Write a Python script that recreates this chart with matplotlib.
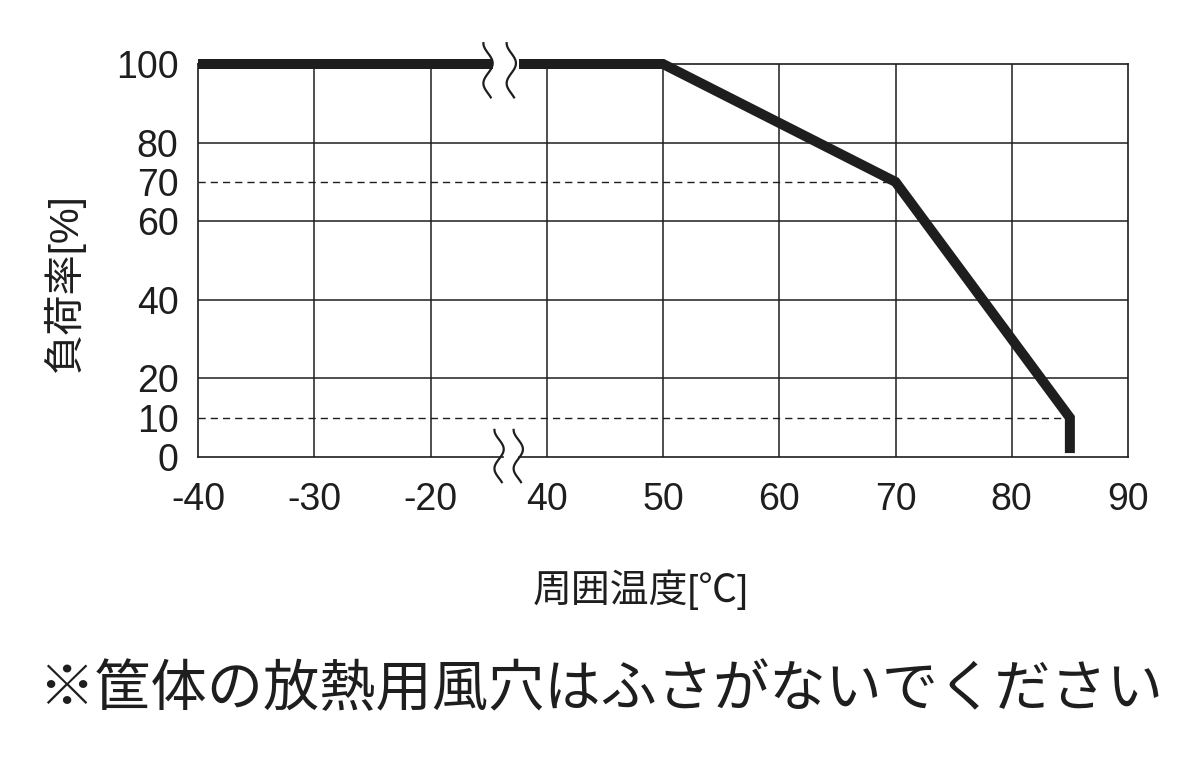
import numpy as np
import matplotlib
matplotlib.use("Agg")
import matplotlib.pyplot as plt
from matplotlib.patches import Rectangle

plt.rcParams['font.family'] = ['Liberation Sans', 'Noto Sans CJK JP', 'DejaVu Sans']

# derating curve (ambient temperature [C], load [%])
temps = [-40, 50, 70, 85, 85]
loads = [100, 100, 70, 10, 1]

# axis ticks (x axis is broken between -20 and 40)
xtick_labels = [-40, -30, -20, 40, 50, 60, 70, 80, 90]
yticks = [0, 10, 20, 40, 60, 70, 80, 100]
solid_y = [20, 40, 60, 80, 100]
dashed_y = [70, 10]
dashed_end = [70, 85]

ink = '#1e1e1e'


def pos(t):
    # map temperature to the position on the broken axis
    t = np.asarray(t, dtype=float)
    return np.where(t <= -20, (t + 40) / 10.0, 3 + (t - 40) / 10.0)


fig = plt.figure(figsize=(12, 7.6), dpi=100)
ax = fig.add_axes([198 / 1200, 1 - 457 / 760, 930 / 1200, 393 / 760])
ax.set_xlim(0, 8)
ax.set_ylim(0, 100)

# grid
for xp in pos(xtick_labels)[1:-1]:
    ax.plot([xp, xp], [0, 100], color=ink, lw=1.1, zorder=1)
for yv in solid_y[:-1]:
    ax.plot([0, 8], [yv, yv], color=ink, lw=1.1, zorder=1)
for yv, te in zip(dashed_y, dashed_end):
    ax.plot([0, pos(te)], [yv, yv], color=ink, lw=1.0, dashes=(5.2, 3.6), zorder=1)

# frame (bottom has a gap at the break)
ax.plot([0, 2.62], [0, 0], color=ink, lw=1.2, clip_on=False, zorder=1)
ax.plot([2.76, 8], [0, 0], color=ink, lw=1.2, clip_on=False, zorder=1)
ax.plot([0, 0], [0, 100], color=ink, lw=1.2, clip_on=False, zorder=1)
ax.plot([8, 8], [0, 100], color=ink, lw=1.2, clip_on=False, zorder=1)
ax.plot([0, 8], [100, 100], color=ink, lw=1.2, clip_on=False, zorder=1)

# derating line
ax.plot(pos(temps), loads, color=ink, lw=7.2, solid_joinstyle='miter',
        solid_capstyle='butt', clip_on=False, zorder=3)

# break gap in the top line
ax.add_patch(Rectangle((2.54, 96), 0.22, 8, facecolor='white', edgecolor='none',
                       clip_on=False, zorder=4))

# wavy break marks
s = np.linspace(0, 1, 60)
wx = -np.cos(2.7 * np.pi * s) * 0.04
for xc in [2.495, 2.695]:
    ax.plot(xc + wx, 105.3 - s * 13.8, color=ink, lw=1.6, clip_on=False, zorder=5)
for xc in [2.59, 2.755]:
    ax.plot(xc + wx, 6.9 - s * 13.3, color=ink, lw=1.6, clip_on=False, zorder=5)

ax.set_xticks(pos(xtick_labels))
ax.set_xticklabels([str(v) for v in xtick_labels])
ax.set_yticks(yticks)
ax.set_yticklabels([str(v) for v in yticks])
ax.tick_params(axis='both', length=0, labelsize=27, colors=ink)
ax.tick_params(axis='x', pad=18)
ax.tick_params(axis='y', pad=14)
for sp in ax.spines.values():
    sp.set_visible(False)

fig.text(641 / 1200, 1 - 590 / 760, '周囲温度[℃]', fontsize=28, color=ink,
         ha='center', va='center')
fig.text(64 / 1200, 1 - 284 / 760, '負荷率[%]', fontsize=29, color=ink,
         ha='center', va='center', rotation=90)
fig.text(601 / 1200, 1 - 690 / 760, '※筐体の放熱用風穴はふさがないでください',
         fontsize=40.5, color=ink, ha='center', va='center',
         family=['Noto Sans CJK JP', 'DejaVu Sans'])

fig.savefig('out.png', dpi=100, facecolor='white')
